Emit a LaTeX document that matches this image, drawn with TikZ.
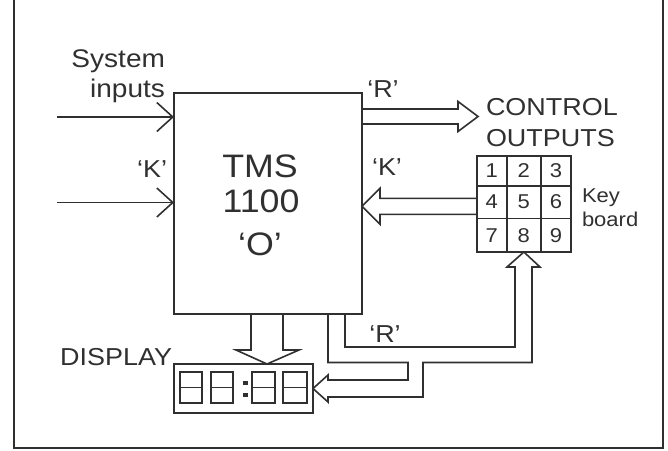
\documentclass[tikz,border=0pt]{standalone}
\usepackage{fontspec}
\setmainfont{Liberation Sans}[FakeStretch=1.1]
\usetikzlibrary{arrows.meta,calc}
\definecolor{ink}{HTML}{303030}
\newcommand{\fsz}[1]{\fontsize{#1}{#1}\selectfont}
\begin{document}
\begin{tikzpicture}[x=1pt,y=-1pt,
  lbl/.style={inner sep=0pt,outer sep=0pt,text=ink},
  big/.style={lbl,font=\fsz{24.5}},
  huge/.style={lbl,font=\fsz{32.5}},
  small/.style={lbl,font=\fsz{20}},
  blk/.style={draw=ink,line width=1.6pt,inner sep=0pt,outer sep=0pt},
  bus/.style={draw=ink,line width=1.6pt,line join=miter},
  sig/.style={draw=ink,line width=1.6pt,-{Straight Barb[length=16pt,width=29pt]}},
  frame/.style={draw=ink,line width=2.2pt},
  seg/.style={draw=ink,line width=1.4pt}]
\useasboundingbox (0,0) rectangle (668,450);
% outer frame
\draw[frame] (14,0) -- (14,448) -- (663,448) -- (663,0);
% main block
\node[blk,minimum width=188pt,minimum height=221pt] (tms) at (268,203.5) {};
\node[huge,anchor=base] (tmsA) at (260,177) {TMS};
\node[huge,anchor=base] (tmsB) at (261,212) {1100};
\node[huge,anchor=base] (tmsC) at (260,255) {‘O’};
% inputs
\node[big,anchor=base east,font=\fsz{25.5}] (sysA) at (165,67) {System};
\node[big,anchor=base east,font=\fsz{25.5}] (sysB) at (165,97) {inputs};
\node[big,anchor=base east] (kL) at (167,177) {‘K’};
\coordinate (in1) at (57,117);
\coordinate (in2) at (57,202.5);
\draw[sig] (in1) -- (in1 -| tms.west);
\draw[sig] (in2) -- (in2 -| tms.west);
% R outputs
\node[big,anchor=base] (rT) at (383,97) {‘R’};
\draw[bus] ($(tms.north east)+(0,16)$) -- ++(96,0) -- ++(0,-7.5) -- ++(20,15) -- ++(-20,15) -- ++(0,-7.5) -- ++(-96,0);
\node[big,anchor=base west] (ctlA) at (486,115) {CONTROL};
\node[big,anchor=base west] (ctlB) at (486,146) {OUTPUTS};
% keyboard
\node[blk,minimum width=94.3pt,minimum height=96.3pt] (kbd) at (523.85,203.85) {};
\foreach \n/\cx/\cy/\w/\h in {1/491.7/170.7/30/30, 2/523.85/170.7/34.3/30, 3/556/170.7/30/30,
  4/491.7/202/30/32.6, 5/523.85/202/34.3/32.6, 6/556/202/30/32.6,
  7/491.7/235.15/30/33.7, 8/523.85/235.15/34.3/33.7, 9/556/235.15/30/33.7}
  \node[blk,small,minimum width=\w pt,minimum height=\h pt] (k\n) at (\cx,\cy) {\n};
\node[small,anchor=base west] (keyA) at (582,202) {Key};
\node[small,anchor=base west] (keyB) at (582,226) {board};
% K input bus
\node[big,anchor=base] (kR) at (387,175) {‘K’};
\draw[bus] ($(kbd.west)+(0,-5.5)$) -- ++(-96.7,0) -- ++(0,-10) -- ++(-18,18) -- ++(18,18) -- ++(0,-10) -- ++(96.7,0);
% display
\node[blk,minimum width=139pt,minimum height=49pt] (disp) at (243.5,388.5) {};
\node[big,anchor=base east] (dispL) at (172,365) {DISPLAY};
\foreach \a/\b in {180/202, 211/233, 252/275, 283/307}{
  \draw[seg] (\a,372) rectangle (\b,403);
  \draw[seg] (\a,387.5) -- (\b,387.5);
}
\fill[ink] (243,381) rectangle (248,385);
\fill[ink] (243,393) rectangle (248,397);
% O output bus to display
\draw[bus] ($(tms.south)+(-17,0)$) -- ++(0,36) -- ++(-15,0) -- ++(31,14) -- ++(32,-14) -- ++(-16,0) -- ++(0,-36);
% R bus to display and keyboard
\node[big,anchor=base] (rB) at (385,342) {‘R’};
\draw[bus] ($(tms.south east)+(-34,0)$) |- (408,362.5) |- (328,380) -- (328,375) -- (disp.east) -- (328,402) -- (328,397) -| (423,362.5) -| (532,267) -- (540,267) -- (kbd.south) -- (507,267) -- (515,267) |- (345,347) -- ($(tms.south east)+(-17,0)$);
\end{tikzpicture}
\end{document}
